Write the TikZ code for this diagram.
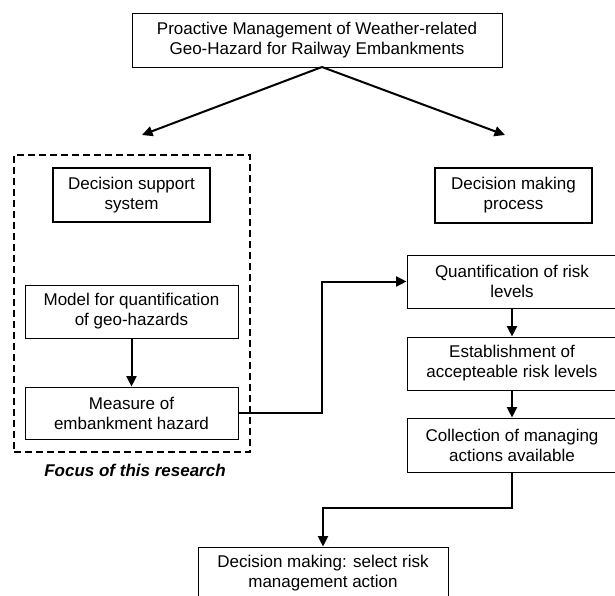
\documentclass[tikz,border=0pt]{standalone}
\usepackage{fontspec}
\setmainfont{Liberation Sans}
\usetikzlibrary{arrows.meta}
\begin{document}
\begin{tikzpicture}[x=1pt,y=-1pt,
  box/.style={draw, line width=0.9pt, inner sep=0pt, align=center, font=\fontsize{17}{20}\selectfont},
  thickbox/.style={box, line width=1.8pt},
  conn/.style={line width=2pt, -{Triangle[length=10.5pt,width=10pt]}},
  line/.style={line width=2pt}]
\useasboundingbox (0,0) rectangle (615,596);
\node[box, minimum width=370pt, minimum height=54pt] (top) at (317,40) {Proactive Management of Weather-related\\Geo-Hazard for Railway Embankments};
\node[thickbox, minimum width=157pt, minimum height=54pt] (dss) at (131.5,195) {Decision support\\system};
\node[box, minimum width=213pt, minimum height=53pt] (model) at (131.5,311.5) {Model for quantification\\of geo-hazards};
\node[box, minimum width=213pt, minimum height=52pt] (measure) at (131.5,413) {Measure of\\embankment hazard};
\node[draw, dashed, line width=2.2pt, dash pattern=on 7pt off 4pt, minimum width=236pt, minimum height=297pt, inner sep=0pt] (focus) at (132,303.5) {};
\node[font=\fontsize{17}{20}\selectfont\bfseries\itshape] (focuslbl) at (135,470) {Focus of this research};
\node[thickbox, minimum width=157pt, minimum height=55pt] (dmp) at (513.5,195.5) {Decision making\\process};
\node[box, minimum width=210pt, minimum height=53pt] (quant) at (512,281.5) {Quantification of risk\\levels};
\node[box, minimum width=210pt, minimum height=53pt] (estab) at (512,363.5) {Establishment of\\accepteable risk levels};
\node[box, minimum width=210pt, minimum height=54pt] (coll) at (512,445) {Collection of managing\\actions available};
\node[box, minimum width=250pt, minimum height=53pt] (dec) at (323,573.5) {Decision making: select risk\\management action};
\coordinate (tl) at (142,135);
\coordinate (tr) at (505,135);
\coordinate (tstart) at (322,67);
\coordinate (m1) at (322,0);
\coordinate (c2) at (400,508);
\draw[conn] (tstart) -- (tl);
\draw[conn] (tstart) -- (tr);
\draw[conn] (model) -- (measure);
\draw[conn] (measure.east) -- (measure.east -| m1) -- (quant.west -| m1) -- (quant.west);
\draw[conn] (quant) -- (estab);
\draw[conn] (estab) -- (coll);
\draw[conn] (coll.south) |- (c2) -| (dec.north);
\end{tikzpicture}
\end{document}
